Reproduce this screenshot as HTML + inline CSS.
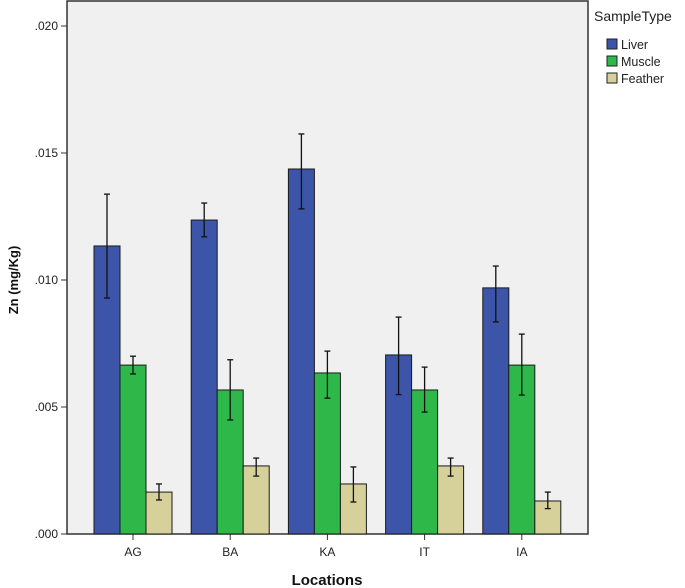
<!DOCTYPE html>
<html><head><meta charset="utf-8"><style>
body{margin:0;background:#fff;}
svg{display:block;font-family:"Liberation Sans",sans-serif;}
</style></head><body>
<svg id="chart" width="685" height="588" viewBox="0 0 685 588"></svg>
<script>
const categories=["AG","BA","KA","IT","IA"];
const seriesNames=["Liver","Muscle","Feather"];
const liver=[0.01134,0.01236,0.01437,0.00705,0.00969];
const liverHi=[0.01338,0.01303,0.01575,0.00854,0.01055];
const liverLo=[0.00929,0.01170,0.01280,0.00549,0.00835];
const muscle=[0.00665,0.00567,0.00634,0.00567,0.00665];
const muscleHi=[0.00700,0.00686,0.00720,0.00657,0.00787];
const muscleLo=[0.00630,0.00449,0.00535,0.00480,0.00547];
const feather=[0.00165,0.00268,0.00197,0.00268,0.00130];
const featherHi=[0.00197,0.00299,0.00264,0.00299,0.00165];
const featherLo=[0.00134,0.00228,0.00126,0.00228,0.00100];
const yTicks=[0,0.005,0.010,0.015,0.020];
const yTickLabels=[".000",".005",".010",".015",".020"];

const NS="http://www.w3.org/2000/svg";
const svg=document.getElementById("chart");
const L=67,R=588,T=1,B=534;
const y=v=>B-v/0.005*127;
const x=i=>133+i*97.2;
const BW=26;
const colors=["#3d55a8","#2fb84a","#d6d09a"];
function mk(tag,attrs,parent){const e=document.createElementNS(NS,tag);for(const k in attrs)e.setAttribute(k,attrs[k]);(parent||svg).appendChild(e);return e;}

const bg=mk("rect",{x:L,y:T,width:R-L,height:B-T,fill:"#f0f0f0",stroke:"#333","stroke-width":1.5});



yTicks.forEach((v,i)=>{
  const t=mk("line",{x1:L-6,x2:L,y1:y(v),y2:y(v),stroke:"#333","stroke-width":1});
  
  
  const tx=mk("text",{x:L-9,y:y(v)+4,"text-anchor":"end","font-size":12,fill:"#222"});
  tx.textContent=yTickLabels[i];
  
  
});

const vals=[liver,muscle,feather],his=[liverHi,muscleHi,featherHi],los=[liverLo,muscleLo,featherLo];
categories.forEach((c,i)=>{
  const tk=mk("line",{x1:x(i),x2:x(i),y1:B,y2:B+6,stroke:"#333"});
  
  
  const lb=mk("text",{x:x(i),y:B+22,"text-anchor":"middle","font-size":12,fill:"#222"});
  lb.textContent=c;
  
  
  for(let s=0;s<3;s++){
    const bx=x(i)+(s-1.5)*BW;
    const r=mk("rect",{x:bx,y:y(vals[s][i]),width:BW,height:B-y(vals[s][i]),fill:colors[s],stroke:"#1a1a1a","stroke-width":1});
    
    
    const cx=bx+BW/2;
    const g=mk("g",{stroke:"#111","stroke-width":1.3});
    
    
    mk("line",{x1:cx,x2:cx,y1:y(his[s][i]),y2:y(los[s][i])},g);
    mk("line",{x1:cx-3,x2:cx+3,y1:y(his[s][i]),y2:y(his[s][i])},g);
    mk("line",{x1:cx-3,x2:cx+3,y1:y(los[s][i]),y2:y(los[s][i])},g);
  }
});

const yt=mk("text",{x:0,y:0,transform:"translate(18,280) rotate(-90)","text-anchor":"middle","font-size":13,"font-weight":"bold",fill:"#111"});
yt.textContent="Zn (mg/Kg)";


const xt=mk("text",{x:327,y:585,"text-anchor":"middle","font-size":15,"font-weight":"bold",fill:"#111"});
xt.textContent="Locations";



const lt=mk("text",{x:594,y:21,"font-size":14,fill:"#222"});
lt.textContent="SampleType";


seriesNames.forEach((n,s)=>{
  const sw=mk("rect",{x:607,y:39+s*17,width:10,height:10,fill:colors[s],stroke:"#222"});
  
  
  const t=mk("text",{x:621,y:49+s*17,"font-size":12.5,fill:"#222"});
  t.textContent=n;
  
  
});
</script>
</body></html>
